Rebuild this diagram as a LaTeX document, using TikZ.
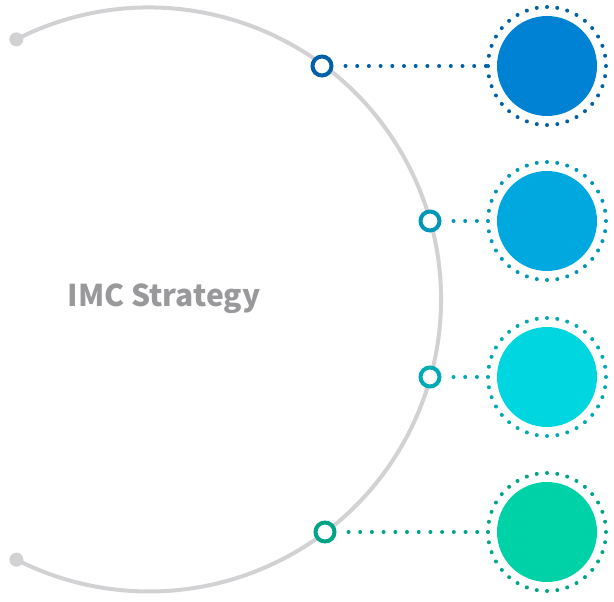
\documentclass[tikz,border=0pt]{standalone}
\usepackage{fontspec}
\usepackage{tikz}
\usetikzlibrary{positioning, calc}
\newfontfamily\labelfont{Noto Sans CJK KR}
\definecolor{arcgray}{RGB}{210,210,212}
\definecolor{textgray}{RGB}{153,153,155}
\definecolor{fillA}{RGB}{0,130,212}
\definecolor{dotA}{RGB}{0,96,168}
\definecolor{fillB}{RGB}{0,168,224}
\definecolor{dotB}{RGB}{0,150,184}
\definecolor{fillC}{RGB}{0,214,224}
\definecolor{dotC}{RGB}{0,170,180}
\definecolor{fillD}{RGB}{0,210,168}
\definecolor{dotD}{RGB}{0,164,134}

\begin{document}
\begin{tikzpicture}[x=1pt, y=-1pt,
        ring/.style={circle, draw, line width=4pt, fill=white, minimum size=19pt, inner sep=0pt},
        dotring/.style={circle, draw, line width=4pt, minimum size=118pt, inner sep=0pt, line cap=round, dash pattern=on 0pt off 10.297pt},
        dotline/.style={line width=4pt, line cap=round, dash pattern=on 0pt off 11.7pt, shorten <=12pt},
    ]
        \useasboundingbox (0,0) rectangle (614,602);

        % Main arc
        \coordinate (hub) at (149,299.5);
        \draw[arcgray, line width=4pt] (hub) ++(117:292pt) arc[start angle=117, end angle=-117, radius=292pt];
        \fill[arcgray] (hub) ++(117:292pt) coordinate (endtop) circle (7pt);
        \fill[arcgray] (hub) ++(-117:292pt) coordinate (endbot) circle (7pt);

        \node[font=\labelfont\bfseries\fontsize{30}{34}\selectfont, text=textgray, anchor=base, inner sep=0pt] (title) at (164,306) {IMC Strategy};

        % Rings on the arc
        \node[ring, draw=dotA] (ringA) at (322,66) {};
        \node[ring, draw=dotB] (ringB) at (430,221) {};
        \node[ring, draw=dotC] (ringC) at (430,377) {};
        \node[ring, draw=dotD] (ringD) at (325,532) {};

        % Coloured circles
        \node[dotring, draw=dotA] (bigA) at (547,66) {};
        \node[dotring, draw=dotB] (bigB) at (547,221) {};
        \node[dotring, draw=dotC] (bigC) at (547,377) {};
        \node[dotring, draw=dotD] (bigD) at (547,532) {};
        \fill[fillA] (bigA.center) circle (50pt);
        \fill[fillB] (bigB.center) circle (50pt);
        \fill[fillC] (bigC.center) circle (50pt);
        \fill[fillD] (bigD.center) circle (50pt);

        \draw[dotline, dotA] (ringA) -- (bigA);
        \draw[dotline, dotB] (ringB) -- (bigB);
        \draw[dotline, dotC] (ringC) -- (bigC);
        \draw[dotline, dotD] (ringD) -- (bigD);
    \end{tikzpicture}
\end{document}
